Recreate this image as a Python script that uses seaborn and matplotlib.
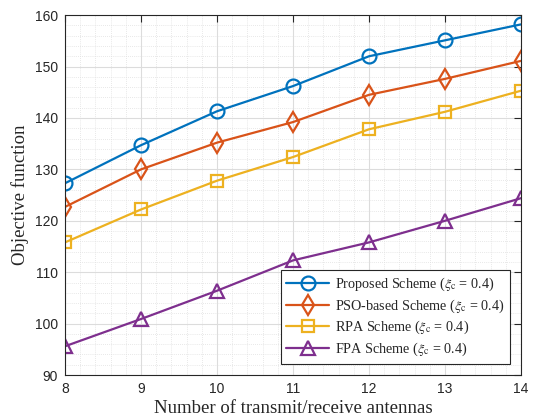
import matplotlib
matplotlib.use("Agg")
import matplotlib.pyplot as plt
from matplotlib.ticker import MultipleLocator
import pandas as pd
import seaborn as sns

antennas = [8, 9, 10, 11, 12, 13, 14]
proposed = [127.3, 134.7, 141.3, 146.2, 152.0, 155.1, 158.2]
pso_based = [122.7, 130.0, 135.2, 139.2, 144.5, 147.6, 151.1]
rpa = [115.8, 122.2, 127.8, 132.4, 137.8, 141.2, 145.3]
fpa = [95.6, 100.9, 106.4, 112.3, 115.8, 120.0, 124.4]

series_names = [
    r"Proposed Scheme ($\xi_{\mathrm{c}}$ = 0.4)",
    r"PSO-based Scheme ($\xi_{\mathrm{c}}$ = 0.4)",
    r"RPA Scheme ($\xi_{\mathrm{c}}$ = 0.4)",
    r"FPA Scheme ($\xi_{\mathrm{c}}$ = 0.4)",
]
series_values = [proposed, pso_based, rpa, fpa]
colors = ["#0072BD", "#D95319", "#EDB120", "#7E2F8E"]
markers = ["o", "d", "s", "^"]
marker_sizes = [10, 10, 8.5, 10.5]

df = pd.DataFrame(
    [(x, v, name) for name, vals in zip(series_names, series_values)
     for x, v in zip(antennas, vals)],
    columns=["antennas", "objective", "scheme"],
)

sns.set_style("white")
plt.rcParams["mathtext.fontset"] = "stix"
plt.rcParams["font.family"] = ["Liberation Sans", "DejaVu Sans"]

fig = plt.figure(figsize=(5.34, 4.2), dpi=100)
ax = fig.add_axes([0.1217, 0.107, 0.854, 0.857])

for name, c, m, ms in zip(series_names, colors, markers, marker_sizes):
    sub = df[df["scheme"] == name]
    sns.lineplot(data=sub, x="antennas", y="objective", ax=ax, color=c,
                 marker=m, markersize=ms, markerfacecolor="none",
                 markeredgecolor=c, markeredgewidth=1.6, linewidth=1.6,
                 label=name)

ax.set_xlim(8, 14)
ax.set_ylim(90, 160)
ax.xaxis.set_major_locator(MultipleLocator(1))
ax.xaxis.set_minor_locator(MultipleLocator(0.2))
ax.yaxis.set_major_locator(MultipleLocator(10))
ax.yaxis.set_minor_locator(MultipleLocator(2))

ax.grid(which="major", color="#dcdcdc", linewidth=0.8, linestyle="-")
ax.grid(which="minor", color="#e0e0e0", linewidth=0.6, linestyle=(0, (1, 1.5)))
ax.set_axisbelow(True)

for s in ax.spines.values():
    s.set_visible(True)
    s.set_color("#262626")
    s.set_linewidth(0.8)

ax.tick_params(which="major", direction="in", length=5, width=0.8,
               top=True, right=True, labelsize=10, colors="#262626",
               pad=5)
ax.tick_params(which="minor", length=0)

ax.set_xlabel("Number of transmit/receive antennas",
              family="Liberation Serif", fontsize=13.5, labelpad=3)
ax.set_ylabel("Objective function", family="Liberation Serif",
              fontsize=13.5, labelpad=4)

leg = ax.legend(loc="lower right", frameon=True, fancybox=False,
                prop={"family": "Liberation Serif", "size": 10.2},
                handlelength=3.0, borderpad=0.4, labelspacing=0.3,
                handletextpad=0.4, borderaxespad=0.8)
leg.get_frame().set_edgecolor("#262626")
leg.get_frame().set_linewidth(0.8)
leg.get_frame().set_alpha(1)

fig.savefig("out.png", dpi=100)
